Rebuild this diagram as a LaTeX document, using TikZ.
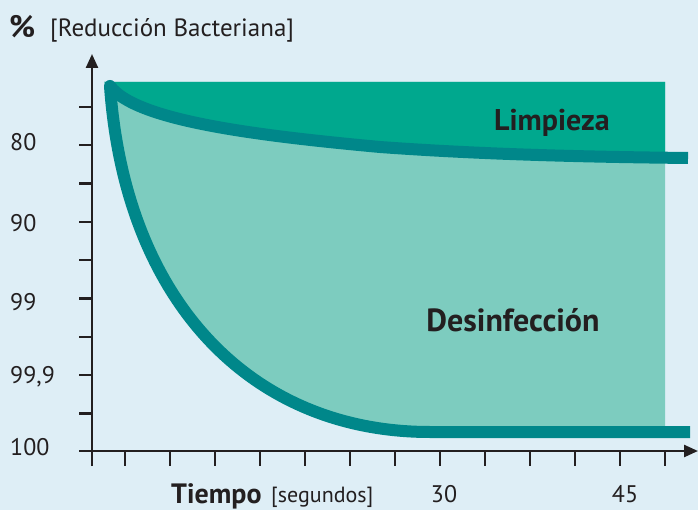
\documentclass[tikz,border=0pt]{standalone}
\usepackage{fontspec}
\setmainfont{PT Sans}
\usepackage{tikz}
\usetikzlibrary{arrows.meta}

\definecolor{fondo}{RGB}{222,238,246}
\definecolor{limpverde}{RGB}{0,168,142}
\definecolor{desinfverde}{RGB}{125,204,191}
\definecolor{banda}{RGB}{0,135,138}
\definecolor{tinta}{RGB}{35,31,32}

\tikzset{
  eje/.style={draw=tinta, line width=2.4pt, -{Triangle[length=14pt,width=12pt]}},
  marca/.style={draw=tinta, line width=2.2pt},
  curva/.style={draw=banda, line width=12pt},
  etiq/.style={text=tinta, font=\fontsize{24}{24}\selectfont, inner sep=0pt},
  zona/.style={text=tinta, font=\fontsize{30}{30}\selectfont\bfseries, inner sep=0pt, anchor=base},
}

\begin{document}
\begin{tikzpicture}[x=1pt,y=-1pt]
% Background
\fill[fondo] (0,0) rectangle (698,510);
\useasboundingbox (0,0) rectangle (698,510);

% Curve points
\coordinate (origen) at (110,86);
\coordinate (codo) at (430,432);
\coordinate (finlimp) at (688,158);
\coordinate (findesinf) at (690,432);

% Zones
\begin{scope}
\clip (100,80) rectangle (665,460);
\fill[desinfverde] (origen) .. controls (125,300) and (250,432) .. (codo) -- (findesinf) |- (104,82) -- cycle;
\fill[limpverde] (origen) .. controls (135,120) and (250,135) .. (380,147) .. controls (490,155) and (600,157) .. (finlimp) |- (104,82) -- cycle;
\end{scope}

% Curves
\draw[curva] (origen) .. controls (125,300) and (250,432) .. (codo) -- (findesinf);
\draw[curva] (origen) .. controls (135,120) and (250,135) .. (380,147) .. controls (490,155) and (600,157) .. (finlimp);
\fill[banda] (origen) circle (6pt);

% Axes
\coordinate (ypie) at (92,466);
\coordinate (ypunta) at (92,54);
\coordinate (xpie) at (79,451);
\coordinate (xpunta) at (698,451);
\draw[eje] (ypie) -- (ypunta);
\draw[eje] (xpie) -- (xpunta);

% Ticks
\foreach \y in {107,145.3,183.6,221.9,260.2,298.5,336.8,375.1,413.4}
  \draw[marca] (79,\y) -- (92,\y);
\foreach \k in {0,...,12}
  \draw[marca] (125+45*\k,451) -- (125+45*\k,466);

% Y labels
\node[etiq, anchor=base west] (ochenta) at (10,151) {80};
\node[etiq, anchor=base west] (noventa) at (10,232) {90};
\node[etiq, anchor=base west] (noventanueve) at (10,310) {99};
\node[etiq, anchor=base west] (nuevecoma) at (10,383) {99,9};
\node[etiq, anchor=base west] (cien) at (10,455) {100};
\node[text=tinta, font=\fontsize{31}{31}\selectfont\bfseries, inner sep=0pt, anchor=base west] (pct) at (9,38) {\%};
\node[text=tinta, font=\fontsize{25}{25}\selectfont, inner sep=0pt, anchor=base west] (reduccion) at (50,37) {[Reducción Bacteriana]};

% X labels
\node[etiq, anchor=base] (treinta) at (444,502) {30};
\node[etiq, anchor=base] (cuarenta) at (625,502) {45};
\node[text=tinta, font=\fontsize{28}{28}\selectfont\bfseries, inner sep=0pt, anchor=base west] (tiempo) at (171,503) {Tiempo};
\node[text=tinta, font=\fontsize{22}{22}\selectfont, inner sep=0pt, anchor=base west] (segundos) at (271,502) {[segundos]};

% Zone names
\node[zona] (limpieza) at (552,131) {Limpieza};
\node[zona, font=\fontsize{32}{32}\selectfont\bfseries] (desinfeccion) at (513,331) {Desinfección};
\end{tikzpicture}
\end{document}
